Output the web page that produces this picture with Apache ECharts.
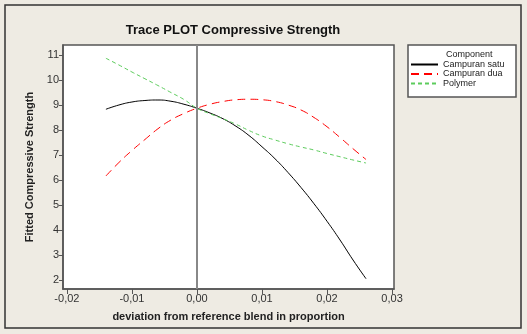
<!DOCTYPE html>
<html>
<head>
<meta charset="utf-8">
<script src="https://cdn.jsdelivr.net/npm/echarts@6/dist/echarts.min.js"></script>
<style>
  html, body { margin: 0; padding: 0; background: #eeebe3; }
  #main { width: 527px; height: 334px; }
</style>
</head>
<body>
<div id="main"></div>
<script>
// deviation values where the traces were evaluated
var deviation = [-0.014, -0.012, -0.010, -0.008, -0.006, -0.004, -0.002, 0.000, 0.002, 0.004,
  0.006, 0.008, 0.010, 0.012, 0.014, 0.016, 0.018, 0.020, 0.022, 0.024, 0.026];
// fitted strength per component
var campuranSatu = [8.83, 9.00, 9.12, 9.18, 9.20, 9.15, 9.03, 8.87, 8.68, 8.45,
  8.15, 7.78, 7.33, 6.85, 6.30, 5.70, 5.05, 4.35, 3.60, 2.80, 2.05];
var campuranDua = [6.16, 6.70, 7.18, 7.62, 8.05, 8.40, 8.66, 8.87, 9.03, 9.14,
  9.21, 9.23, 9.21, 9.14, 9.00, 8.80, 8.50, 8.13, 7.70, 7.25, 6.82];
var polymer = [10.87, 10.60, 10.32, 10.05, 9.78, 9.50, 9.22, 8.87, 8.65, 8.45,
  8.23, 7.98, 7.76, 7.60, 7.45, 7.32, 7.20, 7.06, 6.93, 6.80, 6.68];
// tick labels
var xTicks = [-0.02, -0.01, 0.00, 0.01, 0.02, 0.03];
var yTicks = [2, 3, 4, 5, 6, 7, 8, 9, 10, 11];

function pairs(ys) {
  return deviation.map(function (x, i) { return [x, ys[i]]; });
}

var chart = echarts.init(document.getElementById('main'));
var font = 'Liberation Sans, Arial, sans-serif';

var option = {
  backgroundColor: '#eeebe3',
  animation: false,
  title: {
    text: 'Trace PLOT Compressive Strength',
    left: 228, top: 19, textAlign: 'center',
    textStyle: { fontFamily: font, fontSize: 13, fontWeight: 'bold', color: '#111' }
  },
  grid: {
    left: 63, top: 45, width: 331, height: 244,
    show: true, backgroundColor: '#fff', borderColor: '#555', borderWidth: 1.5
  },
  xAxis: {
    type: 'value', min: -0.0206, max: 0.0303,
    name: 'deviation from reference blend in proportion',
    nameLocation: 'middle', nameGap: 22,
    nameTextStyle: { fontFamily: font, fontSize: 11, fontWeight: 'bold', color: '#222' },
    axisLine: { onZero: false, lineStyle: { color: '#555', width: 1.5 } },
    axisTick: { customValues: xTicks, length: 5, lineStyle: { color: '#555' } },
    axisLabel: {
      customValues: xTicks, margin: 4,
      fontFamily: font, fontSize: 11, color: '#333',
      formatter: function (v) { return v.toFixed(2).replace('.', ','); }
    },
    splitLine: { show: false }
  },
  yAxis: {
    type: 'value', min: 1.64, max: 11.4,
    name: 'Fitted Compressive Strength',
    nameLocation: 'middle', nameGap: 28, nameRotate: 90,
    nameTextStyle: { fontFamily: font, fontSize: 11, fontWeight: 'bold', color: '#222' },
    axisLine: { onZero: false, lineStyle: { color: '#555', width: 1.5 } },
    axisTick: { customValues: yTicks, length: 4, lineStyle: { color: '#555' } },
    axisLabel: { customValues: yTicks, margin: 4, fontFamily: font, fontSize: 11, color: '#333' },
    splitLine: { show: false }
  },
  legend: {
    orient: 'vertical', left: 410, top: 60, padding: 0,
    itemWidth: 27, itemHeight: 7, itemGap: 0.5,
    itemStyle: { opacity: 0 },
    textStyle: { fontFamily: font, fontSize: 9, lineHeight: 9, color: '#222' },
    data: ['Campuran satu', 'Campuran dua', 'Polymer']
  },
  graphic: [
    {
      type: 'rect', z: -1,
      shape: { x: 5, y: 5, width: 516, height: 323 },
      style: { fill: 'none', stroke: '#333', lineWidth: 1.5 }
    },
    {
      type: 'rect',
      shape: { x: 408, y: 45, width: 108, height: 52 },
      style: { fill: '#fff', stroke: '#555', lineWidth: 1.5 }
    },
    {
      type: 'text', left: 446, top: 50,
      style: { text: 'Component', fontFamily: font, fontSize: 9, fill: '#222' }
    }
  ],
  series: [
    {
      name: 'Campuran satu', type: 'line', smooth: true, symbol: 'none',
      data: pairs(campuranSatu),
      lineStyle: { color: '#000', width: 1 }, itemStyle: { color: '#000' },
      markLine: {
        silent: true, symbol: 'none', label: { show: false },
        lineStyle: { color: '#888', width: 2, type: 'solid' },
        data: [{ xAxis: 0 }]
      }
    },
    {
      name: 'Campuran dua', type: 'line', smooth: true, symbol: 'none',
      data: pairs(campuranDua),
      lineStyle: { color: '#ff0000', width: 1, type: [8, 5] }, itemStyle: { color: '#ff0000' }
    },
    {
      name: 'Polymer', type: 'line', smooth: true, symbol: 'none',
      data: pairs(polymer),
      lineStyle: { color: '#5ccc5c', width: 1, type: [4, 3] }, itemStyle: { color: '#5ccc5c' }
    }
  ]
};

chart.setOption(option);
</script>
</body>
</html>
